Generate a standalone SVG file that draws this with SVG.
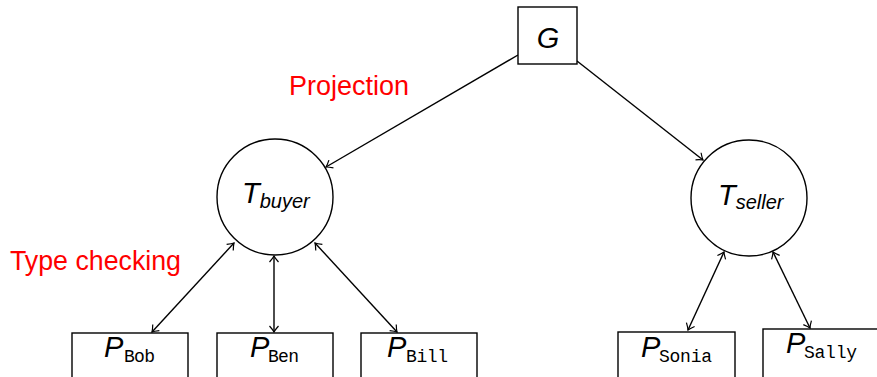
<svg xmlns="http://www.w3.org/2000/svg" width="877" height="377" viewBox="0 0 877 377">
<style>
.shape{fill:#fff;stroke:#000;stroke-width:1.4}
.conn{fill:none;stroke:#000;stroke-width:1.4}
.lbl{fill:#ff0000;font-family:"Liberation Sans",Arial,sans-serif;font-size:27px}
.it{font-family:"Liberation Sans",Arial,sans-serif;font-style:italic;fill:#000}
.mono{font-family:"Liberation Mono","Courier New",monospace;fill:#000;font-size:18px}
</style>
<defs>
<marker id="ah" viewBox="-8 -6 10 12" markerWidth="10" markerHeight="12" refX="0" refY="0" orient="auto-start-reverse" markerUnits="userSpaceOnUse">
<path d="M-6,-4.5 Q-2,-1 0,0 Q-2,1 -6,4.5" fill="none" stroke="#000" stroke-width="1.2"/>
</marker>
</defs>
<rect width="877" height="377" fill="#fff"/>
<g id="connectors">
<line class="conn" x1="518" y1="55" x2="326" y2="167" marker-end="url(#ah)"/>
<line class="conn" x1="577" y1="61" x2="703" y2="160" marker-end="url(#ah)"/>
<line class="conn" x1="234" y1="243" x2="152" y2="332" marker-start="url(#ah)" marker-end="url(#ah)"/>
<line class="conn" x1="274" y1="256" x2="274" y2="332" marker-start="url(#ah)" marker-end="url(#ah)"/>
<line class="conn" x1="315" y1="243" x2="397" y2="332" marker-start="url(#ah)" marker-end="url(#ah)"/>
<line class="conn" x1="724" y1="252" x2="688" y2="330" marker-start="url(#ah)" marker-end="url(#ah)"/>
<line class="conn" x1="773" y1="252" x2="810" y2="328" marker-start="url(#ah)" marker-end="url(#ah)"/>
</g>
<g id="G">
<rect class="shape" x="518" y="7" width="59" height="57"/>
<text class="it" x="548" y="48" font-size="29" text-anchor="middle">G</text>
</g>
<g id="Tbuyer">
<circle class="shape" cx="275" cy="197" r="58"/>
<text class="it" x="242" y="203" font-size="29">T<tspan font-size="20" dy="5">buyer</tspan></text>
</g>
<g id="Tseller">
<circle class="shape" cx="749" cy="198" r="58"/>
<text class="it" x="718" y="205" font-size="29">T<tspan font-size="20" dy="4">seller</tspan></text>
</g>
<g id="PBob">
<rect class="shape" x="72" y="333" width="116" height="60"/>
<text class="it" x="104" y="357" font-size="29">P</text>
<text class="mono" x="124" y="362" textLength="31">Bob</text>
</g>
<g id="PBen">
<rect class="shape" x="217" y="333" width="116" height="60"/>
<text class="it" x="250" y="357" font-size="29">P</text>
<text class="mono" x="268" y="362" textLength="31">Ben</text>
</g>
<g id="PBill">
<rect class="shape" x="361" y="333" width="116" height="60"/>
<text class="it" x="387" y="357" font-size="29">P</text>
<text class="mono" x="406" y="362" textLength="42">Bill</text>
</g>
<g id="PSonia">
<rect class="shape" x="618" y="332" width="117" height="60"/>
<text class="it" x="641" y="357" font-size="29">P</text>
<text class="mono" x="659" y="362" textLength="53">Sonia</text>
</g>
<g id="PSally">
<rect class="shape" x="763" y="329" width="130" height="60"/>
<text class="it" x="786" y="353" font-size="29">P</text>
<text class="mono" x="804" y="358" textLength="53">Sally</text>
</g>
<text class="lbl" x="289" y="95" textLength="120" lengthAdjust="spacingAndGlyphs">Projection</text>
<text class="lbl" x="10" y="270" textLength="171" lengthAdjust="spacingAndGlyphs">Type checking</text>
</svg>
